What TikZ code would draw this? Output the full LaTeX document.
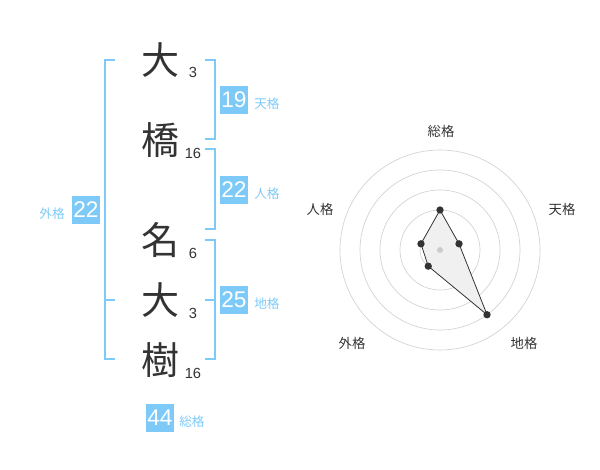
\documentclass[tikz,border=0pt]{standalone}
\usepackage{fontspec}
\setmainfont{Liberation Sans}
\newfontfamily\jp{Noto Sans CJK JP}
\usepackage{tikz}

\definecolor{kakublue}{RGB}{125,202,248}
\definecolor{inkgray}{RGB}{51,51,51}
\tikzset{
  kanji/.style={text=inkgray,font=\jp\fontsize{28.5}{28.5}\selectfont,inner sep=0pt},
  stroke/.style={text=inkgray,font=\fontsize{11}{11}\selectfont,inner sep=0pt},
  kakubox/.style={fill=kakublue,text=white,minimum size=21pt,inner sep=0pt,font=\fontsize{17}{17}\selectfont},
  kakulabel/.style={text=kakublue,font=\jp\fontsize{9.5}{9.5}\selectfont,inner sep=0pt},
  bracket/.style={draw=kakublue,line width=1.5pt},
  ring/.style={draw=gray!35,line width=0.5pt},
  axislabel/.style={text=inkgray,font=\jp\fontsize{10}{10}\selectfont,inner sep=0pt},
  dot/.style={circle,fill=inkgray,inner sep=0pt,minimum size=5.5pt}
}

\begin{document}
\begin{tikzpicture}[x=0.75pt,y=0.75pt,yscale=-1,xscale=1]
        \useasboundingbox (0,0) rectangle (600,470);

        % name and stroke counts
        \draw (160,60) node [kanji] (sei1) {大};
        \draw (160,140) node [kanji] (sei2) {橋};
        \draw (160,240) node [kanji] (mei1) {名};
        \draw (160,300) node [kanji] (mei2) {大};
        \draw (160,360) node [kanji] (mei3) {樹};
        \draw (193,72) node [stroke] (k1) {3};
        \draw (193,153) node [stroke] (k2) {16};
        \draw (193,253) node [stroke] (k3) {6};
        \draw (193,313) node [stroke] (k4) {3};
        \draw (193,373) node [stroke] (k5) {16};

        % brackets
        \draw [bracket] (115,60) -- (105,60) -- (105,359) -- (115,359) ;
        \draw [bracket] (105,300) -- (115,300) ;
        \draw [bracket] (205,60) -- (215,60) -- (215,139) -- (205,139) ;
        \draw [bracket] (205,149) -- (215,149) -- (215,229) -- (205,229) ;
        \draw [bracket] (205,240) -- (215,240) -- (215,359) -- (205,359) ;
        \draw [bracket] (205,300) -- (215,300) ;

        % totals
        \draw (234,100) node [kakubox] (ten) {19};
        \draw (254,104) node [kakulabel,anchor=west] (tenlbl) {天格};
        \draw (234,190) node [kakubox] (jin) {22};
        \draw (254,194) node [kakulabel,anchor=west] (jinlbl) {人格};
        \draw (234,300) node [kakubox] (chi) {25};
        \draw (254,304) node [kakulabel,anchor=west] (chilbl) {地格};
        \draw (86,210) node [kakubox] (gai) {22};
        \draw (65,214) node [kakulabel,anchor=east] (gailbl) {外格};
        \draw (160,418) node [kakubox] (sou) {44};
        \draw (179,422) node [kakulabel,anchor=west] (soulbl) {総格};

        % radar
        \begin{scope}[shift={(440,250)},yscale=-1]
        \foreach \r in {20,40,...,100}
            \draw [ring] (0,0) circle (\r) ;
        \foreach \nm/\ang/\r in {sou/90/40, ten/18/20, chi/-54/80, gai/-126/20, jin/162/20}
            \coordinate (p\nm) at (\ang:\r) ;
        \draw [fill=gray!12,draw=inkgray,line width=0.6pt] (psou) -- (pten) -- (pchi) -- (pgai) -- (pjin) -- cycle ;
        \node [circle,fill=gray!40,inner sep=0pt,minimum size=4.5pt] (hub) at (0,0) {};
        \foreach \nm in {sou,ten,chi,gai,jin}
            \node [dot] (d\nm) at (p\nm) {};
        \end{scope}

        \draw (441,131) node [axislabel] (axsou) {総格};
        \draw (562,209) node [axislabel] (axten) {天格};
        \draw (524,343) node [axislabel] (axchi) {地格};
        \draw (352,343) node [axislabel] (axgai) {外格};
        \draw (320,209) node [axislabel] (axjin) {人格};
    \end{tikzpicture}
\end{document}
